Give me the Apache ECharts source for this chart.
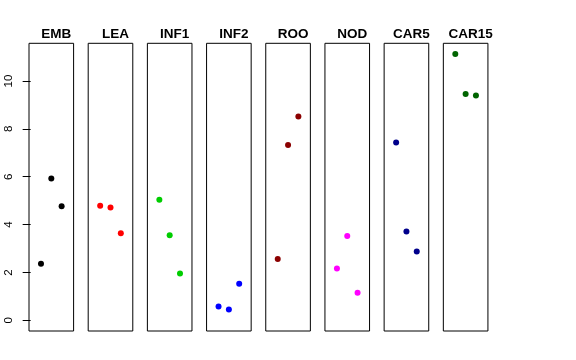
<!DOCTYPE html>
<html>
<head>
<meta charset="utf-8">
<script src="https://cdn.jsdelivr.net/npm/echarts@6/dist/echarts.min.js"></script>
<style>html,body{margin:0;padding:0;background:#fff}#c{width:576px;height:360px}</style>
</head>
<body>
<div id="c"></div>
<script>
var categories = ['EMB','LEA','INF1','INF2','ROO','NOD','CAR5','CAR15'];
var EMB   = [2.36, 5.93, 4.77];
var LEA   = [4.79, 4.71, 3.64];
var INF1  = [5.04, 3.56, 1.96];
var INF2  = [0.58, 0.45, 1.53];
var ROO   = [2.56, 7.33, 8.52];
var NOD   = [2.17, 3.52, 1.15];
var CAR5  = [7.43, 3.71, 2.88];
var CAR15 = [11.13, 9.46, 9.39];
var seriesValues = [EMB, LEA, INF1, INF2, ROO, NOD, CAR5, CAR15];
var colors = ['#000000','#FF0000','#00CD00','#0000FF','#8B0000','#FF00FF','#00008B','#006400'];
var yTicks = [0, 2, 4, 6, 8, 10];

var allVals = [].concat.apply([], seriesValues);
var dmin = 0, dmax = Math.max.apply(null, allVals);
var pad = (dmax - dmin) * 0.04;
var yMin = dmin - pad, yMax = dmax + pad;

var grids = [], xAxes = [], yAxes = [], series = [], titles = [];
var panelLeft0 = 29, panelStep = 59.19, panelW = 44.6, panelTop = 43.3, panelH = 287.7;
categories.forEach(function (cat, i) {
  var l = panelLeft0 + i * panelStep;
  grids.push({left: l, top: panelTop, width: panelW, height: panelH, show: true, borderColor: '#000', borderWidth: 1, backgroundColor: 'transparent'});
  xAxes.push({gridIndex: i, type: 'value', min: -0.16, max: 4.16, show: false});
  yAxes.push({
    gridIndex: i, type: 'value', min: yMin, max: yMax,
    show: i === 0,
    axisLine: {show: false},
    splitLine: {show: false},
    axisTick: {show: true, length: 8, inside: false, lineStyle: {color: '#000'}, customValues: yTicks},
    axisLabel: {show: true, rotate: 90, margin: 14, color: '#000', fontSize: 11.5, fontFamily: 'Liberation Sans', customValues: yTicks,
      formatter: function (v) { return String(v); }}
  });
  titles.push({text: cat, left: l + panelW / 2, top: 22, textAlign: 'center',
    textStyle: {fontFamily: 'Liberation Sans', fontWeight: 'bold', fontSize: 13.5, color: '#000'}});
  series.push({
    type: 'scatter', xAxisIndex: i, yAxisIndex: i, symbol: 'circle', symbolSize: 6,
    itemStyle: {color: colors[i], opacity: 1}, silent: true,
    data: seriesValues[i].map(function (v, j) { return [j + 1, v]; })
  });
});

var chart = echarts.init(document.getElementById('c'), null, {renderer: 'canvas'});
chart.setOption({animation: false, title: titles, grid: grids, xAxis: xAxes, yAxis: yAxes, series: series});
</script>
</body>
</html>
